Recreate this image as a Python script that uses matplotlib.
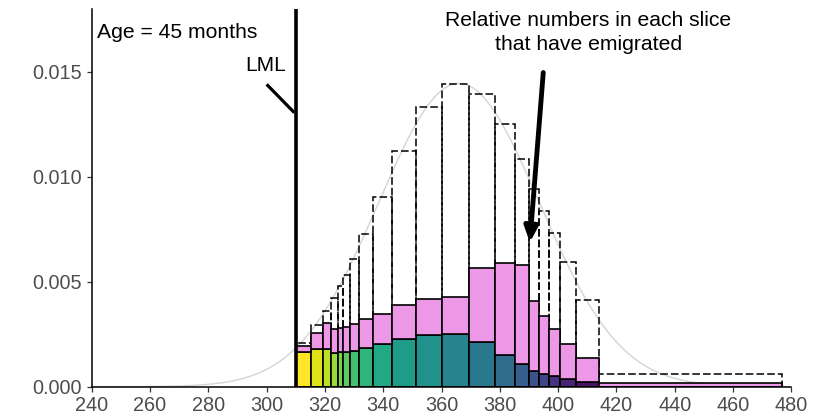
import numpy as np
import matplotlib
matplotlib.use("Agg")
import matplotlib.pyplot as plt

plt.rcParams['font.family'] = ['Liberation Sans', 'DejaVu Sans']

# Slice edges (length units)
edges = [310, 315.1, 319.4, 322.2, 324.4, 326.3, 328.6, 331.6, 336.6, 342.9,
         351.1, 360.1, 369.5, 378.2, 385.1, 390.1, 393.6, 396.7, 400.5, 406.2,
         414.0, 476.9]
# Remaining (coloured) density in each slice
remaining = [0.001672, 0.001801, 0.001787, 0.001624, 0.001644, 0.001672, 0.001706,
             0.001863, 0.002031, 0.002284, 0.002456, 0.002504, 0.002121, 0.001529,
             0.001085, 0.000750, 0.000607, 0.000497, 0.000368, 0.000239, 0.0]
# Top of solid stack (remaining + emigrated)
solid_top = [0.001945, 0.002551, 0.003058, 0.002742, 0.002790, 0.002867, 0.002981,
             0.003220, 0.003473, 0.003889, 0.004176, 0.004271, 0.005638, 0.005901,
             0.005805, 0.004061, 0.003392, 0.002757, 0.002054, 0.001357, 0.000160]
# Initial density in each slice (dashed outline)
initial = [0.002102, 0.002948, 0.003617, 0.004224, 0.004778, 0.005303, 0.006101,
           0.007281, 0.009030, 0.011242, 0.013330, 0.014415, 0.013970, 0.012503,
           0.010865, 0.009412, 0.008361, 0.007329, 0.005924, 0.004142, 0.000607]
# Reference normal density curve parameters
curve_mean = 366.0
curve_sd = 27.6

lml = 310
xticks = list(range(240, 481, 20))
yticks = [0.000, 0.005, 0.010, 0.015]

fig = plt.figure(figsize=(8.28, 4.20), dpi=100)
ax = fig.add_axes([0.1108, 0.0793, 0.8449, 0.8993])

edges_a = np.array(edges)
lefts = edges_a[:-1]
widths = np.diff(edges_a)
rem = np.array(remaining)
top = np.array(solid_top)
init = np.array(initial)

# curve
xc = np.linspace(240, 480, 600)
yc = np.exp(-0.5 * ((xc - curve_mean) / curve_sd) ** 2) / (curve_sd * np.sqrt(2 * np.pi))
ax.plot(xc, yc, color='#d4d4d4', lw=1.0, zorder=1)

# dashed initial
ax.bar(lefts, init, width=widths, align='edge', fill=False, edgecolor='black',
       linestyle=(0, (5, 2)), linewidth=1.1, zorder=2)

cols = plt.cm.viridis(np.linspace(1, 0, len(lefts)))
mask = rem > 0
ax.bar(lefts[mask], rem[mask], width=widths[mask], align='edge', color=cols[mask],
       edgecolor='black', linewidth=1.2, zorder=3)
ax.bar(lefts, top - rem, bottom=rem, width=widths, align='edge', color='#EC98E6',
       edgecolor='black', linewidth=1.2, zorder=3)

ax.axvline(lml, color='black', lw=2.6, zorder=5)

ax.set_xlim(240, 480)
ax.set_ylim(0, 0.018)
ax.set_xticks(xticks)
ax.set_yticks(yticks)
ax.set_yticklabels([f"{v:.3f}" for v in yticks])
ax.tick_params(axis='both', labelsize=14.3, colors='#333333', length=3.5, width=0.9,
               labelcolor='#4D4D4D')
for s in ['top', 'right']:
    ax.spines[s].set_visible(False)
for s in ['left', 'bottom']:
    ax.spines[s].set_linewidth(1.1)
    ax.spines[s].set_color('black')
ax.spines['bottom'].set_zorder(6)

ax.text(241.7, 0.01688, "Age = 45 months", ha='left', va='center', fontsize=15.2, color='black')
ax.text(299.7, 0.01532, "LML", ha='center', va='center', fontsize=15.0, color='black')
ax.plot([300.0, 309.5], [0.01441, 0.01306], color='black', lw=2.3, solid_capstyle='butt', zorder=5)
ax.text(410.3, 0.01688, "Relative numbers in each slice\nthat have emigrated", ha='center',
        va='center', fontsize=15.2, color='black', linespacing=1.3)
ax.annotate("", xy=(390.3, 0.00688), xytext=(394.9, 0.01497),
            arrowprops=dict(arrowstyle='-|>,head_length=0.9,head_width=0.4', color='black',
                            lw=3.5, shrinkA=0, shrinkB=0), zorder=6)

fig.savefig("out.png", dpi=100)
